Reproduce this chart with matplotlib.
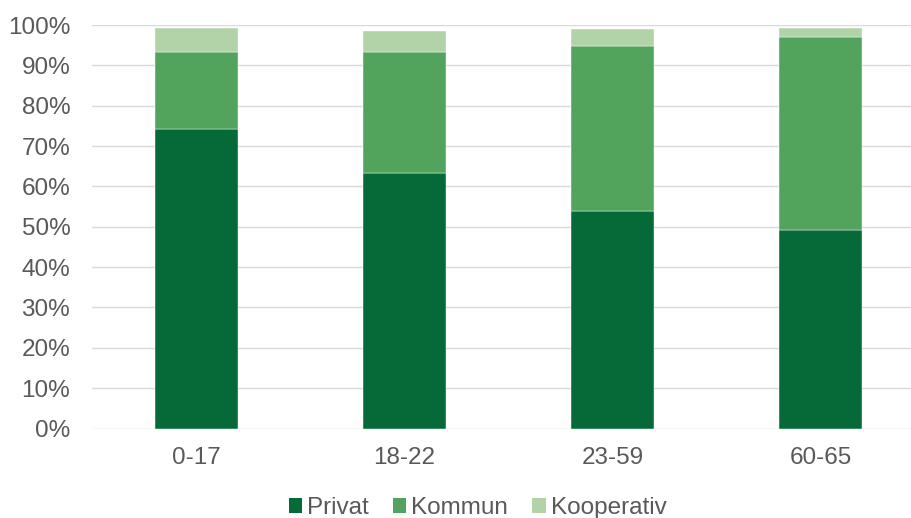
import matplotlib
matplotlib.use("Agg")
import matplotlib.pyplot as plt
from matplotlib.patches import Patch
import numpy as np

# Andel per åldersgrupp (läst ur diagrammet)
CATEGORIES = ["0-17", "18-22", "23-59", "60-65"]
PRIVAT = [0.742, 0.632, 0.540, 0.493]
KOMMUN = [0.190, 0.302, 0.409, 0.477]
KOOPERATIV = [0.061, 0.051, 0.041, 0.023]
SERIES = ["Privat", "Kommun", "Kooperativ"]
COLORS = ["#066a38", "#52a35b", "#b2d3a8"]
YTICKS = np.arange(0, 1.01, 0.1)

TEXT_COLOR = "#595959"
GRID_COLOR = "#d9d9d9"

plt.rcParams["font.family"] = ["Liberation Sans", "DejaVu Sans"]

W, H = 912, 518
fig = plt.figure(figsize=(W / 100, H / 100), dpi=100)
ax = fig.add_axes([92.5 / W, (H - 428.5) / H, 832 / W, 403.5 / H])

x = np.arange(len(CATEGORIES))
bottom = np.zeros(len(CATEGORIES))
for vals, col in zip([PRIVAT, KOMMUN, KOOPERATIV], COLORS):
    ax.bar(x, vals, width=0.4, bottom=bottom, color=col, zorder=3,
           edgecolor="white", linewidth=0.3)
    bottom += np.array(vals)

ax.set_xlim(-0.5, len(CATEGORIES) - 0.5)
ax.set_ylim(0, 1.0)
ax.set_yticks(YTICKS)
ax.set_yticklabels([f"{int(round(v * 100))}%" for v in YTICKS])
ax.set_xticks(x)
ax.set_xticklabels(CATEGORIES)

ax.grid(axis="y", color=GRID_COLOR, linewidth=1.0, zorder=0)
ax.set_axisbelow(True)
for s in ax.spines.values():
    s.set_visible(False)
ax.tick_params(axis="y", length=0, pad=16, labelsize=17.5, labelcolor=TEXT_COLOR)
ax.tick_params(axis="x", length=0, pad=13, labelsize=17.5, labelcolor=TEXT_COLOR)

handles = [Patch(facecolor=c, edgecolor="none") for c in COLORS]
fig.legend(handles, SERIES, loc="center", bbox_to_anchor=(477.5 / W, 1 - 508 / H),
           ncol=3, frameon=False, fontsize=17.5, labelcolor=TEXT_COLOR,
           handlelength=0.55, handleheight=0.55, handletextpad=0.2,
           columnspacing=1.0, borderpad=0)

fig.savefig("out.png", dpi=100)
